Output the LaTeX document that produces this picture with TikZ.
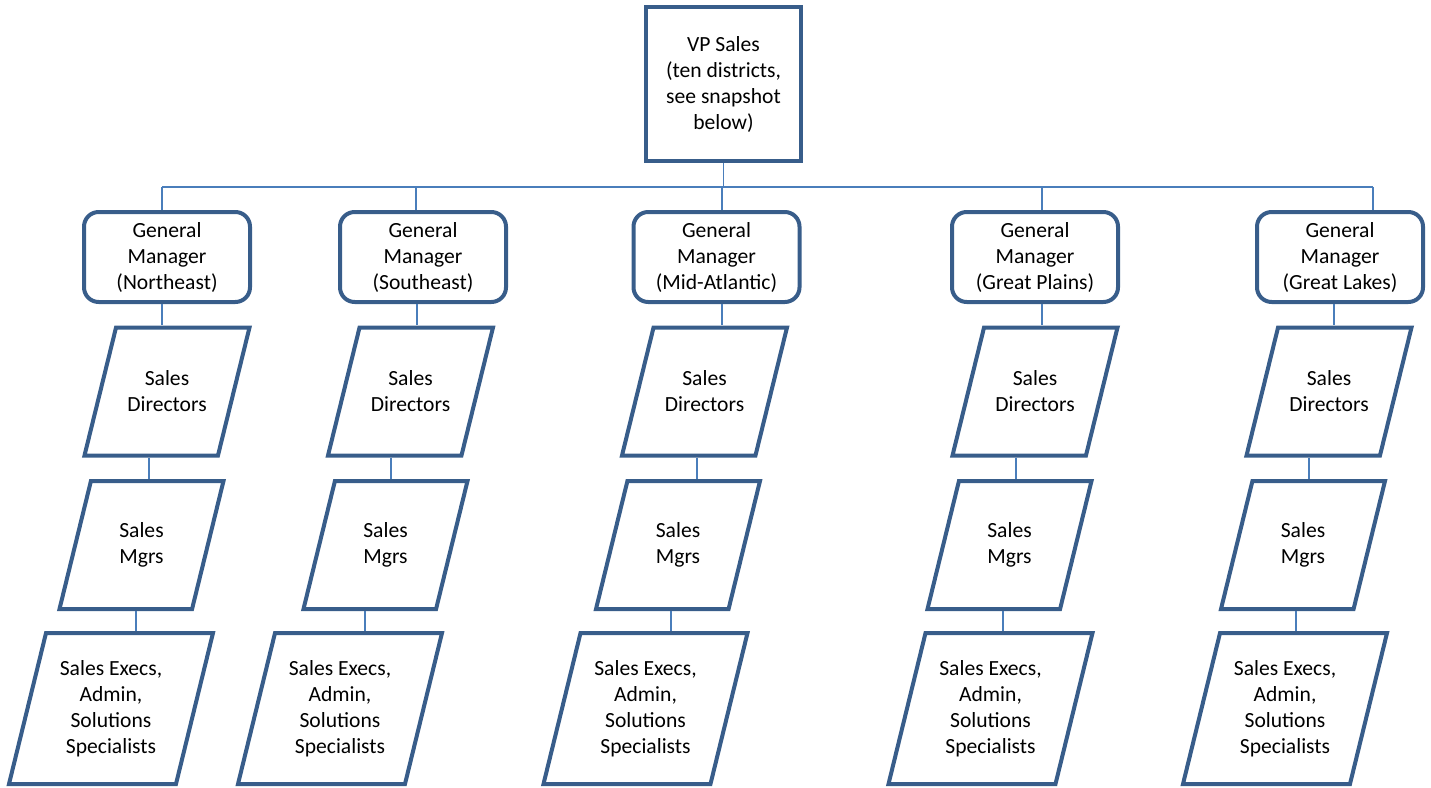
\documentclass[tikz,border=0pt]{standalone}
\usepackage{fontspec}
\setmainfont{Carlito}
\usetikzlibrary{shapes.geometric}

\definecolor{boxline}{RGB}{56,93,138}
\definecolor{linkline}{RGB}{74,126,187}

\begin{document}
\begin{tikzpicture}[x=0.75pt, y=-0.75pt]
{\fontsize{16.2}{19.5}\selectfont
	\tikzstyle{vpbox} = [rectangle, minimum width=116.25pt, minimum height=115.5pt, align=center, inner sep=0pt, draw=boxline, line width=3pt]
	\tikzstyle{gmbox} = [rectangle, rounded corners=11pt, minimum width=124.5pt, minimum height=67.5pt, align=center, inner sep=0pt, draw=boxline, line width=3pt]
	\tikzstyle{para} = [trapezium, trapezium left angle=76, trapezium right angle=104, trapezium stretches body=true, align=center, inner xsep=0pt, draw=boxline, line width=3pt]
	\tikzstyle{dirbox} = [para, inner ysep=32pt, minimum width=123.75pt, minimum height=96pt]
	\tikzstyle{mgrbox} = [para, inner ysep=30.5pt, minimum width=123pt, minimum height=96pt]
	\tikzstyle{staffbox} = [para, inner ysep=19.5pt, minimum width=153pt, minimum height=113.25pt]
	\tikzstyle{link} = [draw=linkline, line width=0.9pt]

	\useasboundingbox (0,0) rectangle (1431,788);

	\node (vp) [vpbox] at (723.5,84) {VP Sales\\(ten districts,\\see snapshot\\below)};

	% general managers
	\node (gm1) [gmbox] at (167,257) {General\\Manager\\(Northeast)};
	\node (gm2) [gmbox] at (423,257) {General\\Manager\\(Southeast)};
	\node (gm3) [gmbox] at (716.5,257) {General\\Manager\\(Mid-Atlantic)};
	\node (gm4) [gmbox] at (1035,257) {General\\Manager\\(Great Plains)};
	\node (gm5) [gmbox] at (1340,257) {General\\Manager\\(Great Lakes)};

	% sales directors
	\node (sd1) [dirbox] at (167,391.5) {Sales\\Directors};
	\node (sd2) [dirbox] at (410.5,391.5) {Sales\\Directors};
	\node (sd3) [dirbox] at (704.5,391.5) {Sales\\Directors};
	\node (sd4) [dirbox] at (1035,391.5) {Sales\\Directors};
	\node (sd5) [dirbox] at (1329,391.5) {Sales\\Directors};

	% sales managers
	\node (sm1) [mgrbox] at (141.5,545) {Sales\\Mgrs};
	\node (sm2) [mgrbox] at (385.5,545) {Sales\\Mgrs};
	\node (sm3) [mgrbox] at (678,545) {Sales\\Mgrs};
	\node (sm4) [mgrbox] at (1009.5,545) {Sales\\Mgrs};
	\node (sm5) [mgrbox] at (1303,545) {Sales\\Mgrs};

	% execs and staff
	\node (se1) [staffbox] at (111,708.5) {Sales Execs,\\Admin,\\Solutions\\Specialists};
	\node (se2) [staffbox] at (340,708.5) {Sales Execs,\\Admin,\\Solutions\\Specialists};
	\node (se3) [staffbox] at (645.5,708.5) {Sales Execs,\\Admin,\\Solutions\\Specialists};
	\node (se4) [staffbox] at (990.5,708.5) {Sales Execs,\\Admin,\\Solutions\\Specialists};
	\node (se5) [staffbox] at (1285,708.5) {Sales Execs,\\Admin,\\Solutions\\Specialists};

	% bar under the VP
	\coordinate (b1) at (162,187);
	\coordinate (b2) at (416,187);
	\coordinate (b3) at (722,187);
	\coordinate (b4) at (1042,187);
	\coordinate (b5) at (1373,187);
	\draw [link](vp.south) -- (vp.south |- b1);
	\draw [link](b1) -- (b5);
	\draw [link](b1) -- (b1 |- gm1.north);
	\draw [link](b2) -- (b2 |- gm2.north);
	\draw [link](b3) -- (b3 |- gm3.north);
	\draw [link](b4) -- (b4 |- gm4.north);
	\draw [link](b5) -- (b5 |- gm5.north);

	\draw [link](gm1.south -| 162,0) -- (sd1.north -| 162,0);
	\draw [link](gm2.south -| 417,0) -- (sd2.north -| 417,0);
	\draw [link](gm3.south -| 722,0) -- (sd3.north -| 722,0);
	\draw [link](gm4.south -| 1042,0) -- (sd4.north -| 1042,0);
	\draw [link](gm5.south -| 1334,0) -- (sd5.north -| 1334,0);

	\draw [link](sd1.south -| 149,0) -- (sm1.north -| 149,0);
	\draw [link](sd2.south -| 391,0) -- (sm2.north -| 391,0);
	\draw [link](sd3.south -| 697,0) -- (sm3.north -| 697,0);
	\draw [link](sd4.south -| 1016,0) -- (sm4.north -| 1016,0);
	\draw [link](sd5.south -| 1309,0) -- (sm5.north -| 1309,0);

	\draw [link](sm1.south -| 136,0) -- (se1.north -| 136,0);
	\draw [link](sm2.south -| 365,0) -- (se2.north -| 365,0);
	\draw [link](sm3.south -| 671,0) -- (se3.north -| 671,0);
	\draw [link](sm4.south -| 1003,0) -- (se4.north -| 1003,0);
	\draw [link](sm5.south -| 1296,0) -- (se5.north -| 1296,0);
	}
\end{tikzpicture}
\end{document}
